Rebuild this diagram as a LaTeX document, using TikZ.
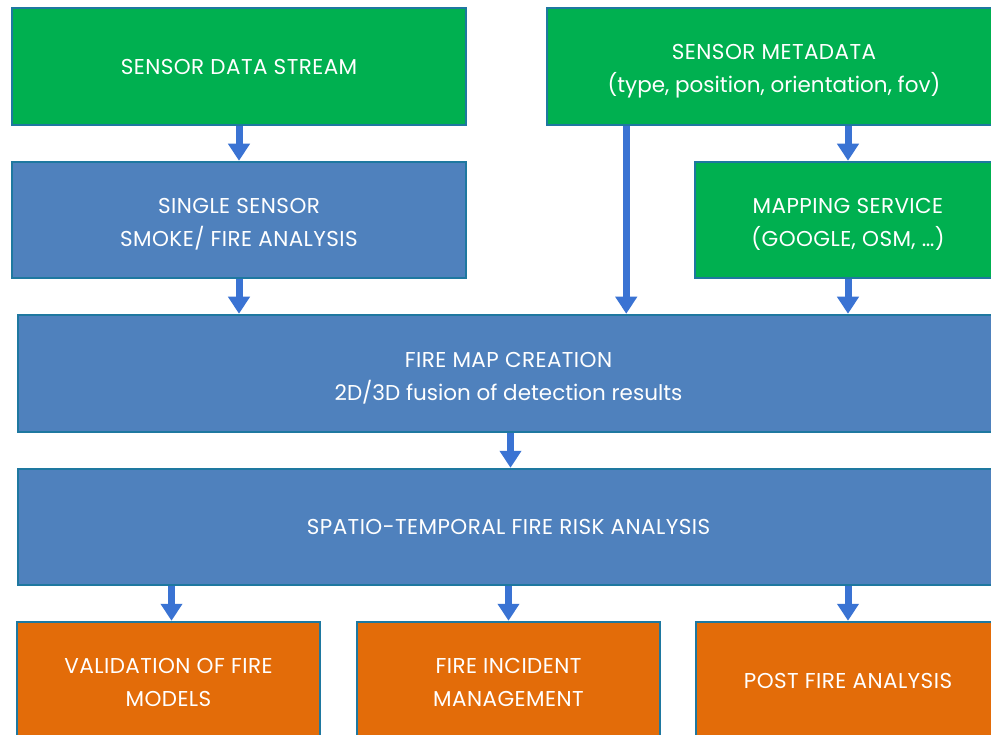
\documentclass[tikz,border=0pt]{standalone}
\usepackage{fontspec}
\setmainfont{Poppins}
\usetikzlibrary{arrows.meta,calc}
\definecolor{gfill}{RGB}{0,176,80}
\definecolor{bfill}{RGB}{79,129,189}
\definecolor{ofill}{RGB}{227,108,9}
\definecolor{edge}{RGB}{30,120,160}
\definecolor{arrc}{RGB}{58,115,211}
\newcommand{\fstrut}{\rule{0pt}{24pt}}
\tikzset{
  box/.style={draw=edge, line width=1.5pt, text=white, align=center,
    font=\fontsize{21.5}{33}\selectfont\addfontfeatures{LetterSpace=2}, inner sep=0pt},
  gbox/.style={box, fill=gfill},
  bbox/.style={box, fill=bfill},
  obox/.style={box, fill=ofill},
  arr/.style={draw=arrc, line width=7pt, -{Triangle[width=21pt,length=17pt]}, shorten >=0.5pt}
}
\begin{document}
\begin{tikzpicture}[x=1pt,y=-1pt]
\useasboundingbox (0,0) rectangle (991,735);
\clip (0,0) rectangle (991,735);
\fill[white] (0,0) rectangle (991,735);
% row 1
\node[gbox, minimum width=454pt, minimum height=117pt] (sds) at (239,66.5) {SENSOR DATA STREAM};
\node[gbox, minimum width=454pt, minimum height=117pt] (meta) at (774,66.5) {\fstrut SENSOR METADATA\\{\addfontfeatures{LetterSpace=0}(type, position, orientation, fov)}};
% row 2
\node[bbox, minimum width=454pt, minimum height=116pt] (ssa) at (239,220) {\fstrut SINGLE SENSOR\\SMOKE/ FIRE ANALYSIS};
\node[gbox, minimum width=306pt, minimum height=116pt] (map) at (848,220) {\fstrut MAPPING SERVICE\\(GOOGLE, OSM, \dots)};
% row 3
\node[bbox, minimum width=981pt, minimum height=117pt] (fm) at (508.5,373.5) {\fstrut FIRE MAP CREATION\\{\addfontfeatures{LetterSpace=0}2D/3D fusion of detection results}};
% row 4
\node[bbox, minimum width=981pt, minimum height=116pt] (st) at (508.5,527) {SPATIO-TEMPORAL FIRE RISK ANALYSIS};
% row 5
\node[obox, minimum width=303pt, minimum height=117pt] (o1) at (168.5,680.5) {\rule{0pt}{19pt}VALIDATION OF FIRE\\MODELS};
\node[obox, minimum width=303pt, minimum height=117pt] (o2) at (508.5,680.5) {\rule{0pt}{19pt}FIRE INCIDENT\\MANAGEMENT};
\node[obox, minimum width=304pt, minimum height=117pt] (o3) at (848,680.5) {POST FIRE ANALYSIS};
% arrows
\draw[arr] (sds.south) -- (ssa.north);
\draw[arr] (map.north |- meta.south) -- (map.north);
\draw[arr] ([xshift=80pt]meta.south west) -- ([xshift=80pt]meta.south west |- fm.north);
\draw[arr] (ssa.south) -- (ssa.south |- fm.north);
\draw[arr] (map.south) -- (map.south |- fm.north);
\draw[arr] ([xshift=2pt]fm.south) -- ([xshift=2pt]fm.south |- st.north);
\draw[arr] ([xshift=3pt]o1.north |- st.south) -- ([xshift=3pt]o1.north);
\draw[arr] (o2.north |- st.south) -- (o2.north);
\draw[arr] (o3.north |- st.south) -- (o3.north);
\end{tikzpicture}
\end{document}
